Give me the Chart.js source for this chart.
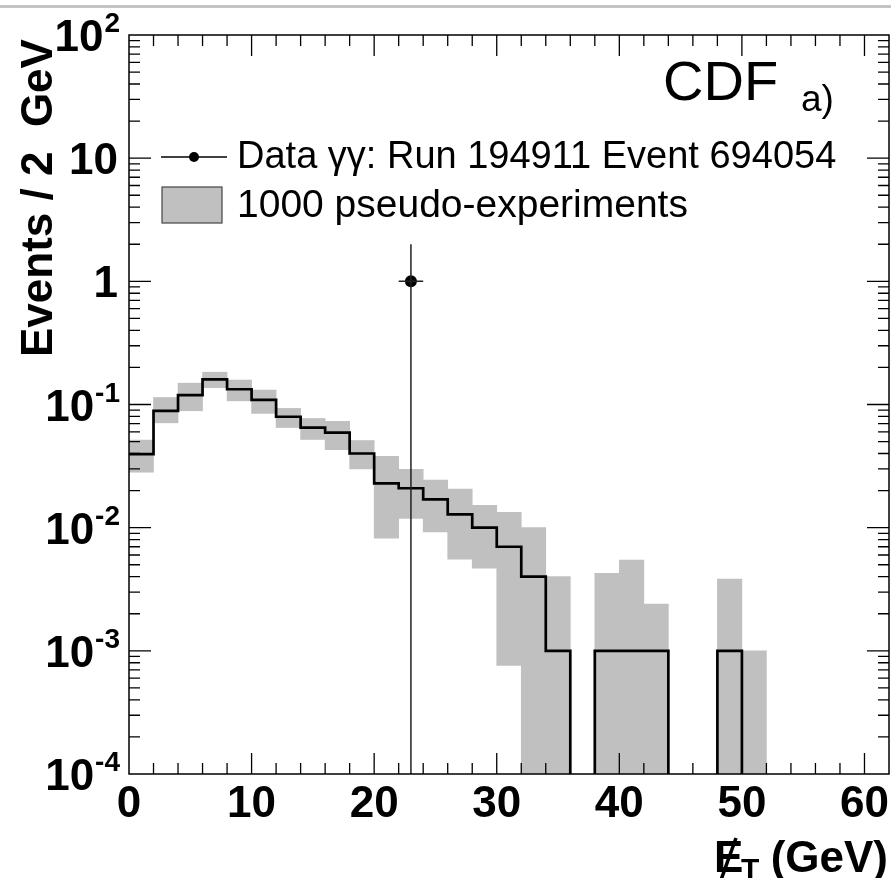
<!DOCTYPE html>
<html>
<head>
<meta charset="utf-8">
<script src="https://cdn.jsdelivr.net/npm/chart.js@4.4.1/dist/chart.umd.min.js"></script>
<style>
  html, body { margin: 0; padding: 0; background: #fff; }
  canvas { display: block; }
</style>
</head>
<body>
<canvas id="metChart" width="891" height="878"></canvas>
<script>
// MET bins (GeV), left edges, 2 GeV wide
const binWidth = 2;
const binLow = [0, 2, 4, 6, 8, 10, 12, 14, 16, 18, 20, 22, 24, 26, 28, 30,
  32, 34, 36, 38, 40, 42, 44, 46, 48, 50, 52, 54, 56, 58, 60];

// mean of the pseudo-experiments (black histogram)
const expected = [0.0395, 0.0889, 0.119, 0.160, 0.133, 0.109, 0.0795, 0.065,
  0.059, 0.040, 0.0229, 0.0209, 0.0170, 0.0128, 0.0100, 0.0070, 0.0040, 0.0010,
  0, 0.0010, 0.0010, 0.0010, 0, 0, 0.0010, 0, 0, 0, 0, 0, 0];

// spread of the pseudo-experiments (grey band), null = no band
const bandLow = [0.0282, 0.071, 0.089, 0.137, 0.107, 0.0847, 0.065, 0.052,
  0.043, 0.030, 0.0082, 0.0119, 0.00925, 0.00554, 0.00468, 0.00076, 0, 0,
  null, 0, 0, 0, null, null, 0, 0, null, null, null, null, null];
const bandHigh = [0.0514, 0.114, 0.149, 0.183, 0.158, 0.131, 0.093, 0.077,
  0.073, 0.051, 0.038, 0.0298, 0.0243, 0.0206, 0.0152, 0.0133, 0.0100, 0.0040,
  null, 0.00425, 0.00546, 0.0024, null, null, 0.00383, 0.0010, null, null, null, null, null];

// the one data event
const dataX = [23];
const dataY = [1];
const dataErrX = [1];
const dataErrY = [1];

// axis labels
const xTickLabels = [0, 10, 20, 30, 40, 50, 60];
const yTickExps = [-4, -3, -2, -1, 0, 1, 2];

const FLOOR = 1e-6; // stands in for zero on the log axis
const FONT = '"Liberation Sans", Arial, Helvetica, sans-serif';

const bandData = [];
binLow.forEach((lo, i) => {
  if (bandHigh[i] == null) return;
  bandData.push({ x: lo + binWidth / 2, y: [bandLow[i] > 0 ? bandLow[i] : FLOOR, bandHigh[i]] });
});

const histData = binLow.map((lo, i) => ({ x: lo, y: expected[i] > 0 ? expected[i] : FLOOR }));
histData.push({ x: binLow[binLow.length - 1] + binWidth, y: histData[histData.length - 1].y });

const pointData = dataX.map((x, i) => ({ x, y: dataY[i] }));

const rootStyle = {
  id: "rootStyle",
  afterDatasetsDraw(chart) {
    const { ctx, chartArea: a, scales: { x, y } } = chart;
    ctx.save();
    ctx.strokeStyle = "#222";
    ctx.lineWidth = 1.5;
    dataX.forEach((dx, i) => {
      const px = x.getPixelForValue(dx);
      const py = y.getPixelForValue(dataY[i]);
      const lo = dataY[i] - dataErrY[i];
      const pyLo = lo > 0 ? y.getPixelForValue(lo) : a.bottom;
      const pyHi = y.getPixelForValue(dataY[i] + dataErrY[i]);
      ctx.beginPath();
      ctx.moveTo(px, pyLo);
      ctx.lineTo(px, pyHi);
      ctx.moveTo(x.getPixelForValue(dx - dataErrX[i]), py);
      ctx.lineTo(x.getPixelForValue(dx + dataErrX[i]), py);
      ctx.stroke();
    });
    ctx.restore();
  },
  afterDraw(chart) {
    const { ctx, chartArea: a, scales: { x, y } } = chart;
    ctx.save();

    // page rule at the very top
    ctx.fillStyle = "#c4c4c4";
    ctx.fillRect(0, 5, 891, 3);

    // frame
    ctx.strokeStyle = "#000";
    ctx.lineWidth = 1.5;
    ctx.strokeRect(a.left, a.top, a.right - a.left, a.bottom - a.top);

    // ticks on all four sides, pointing in
    ctx.lineWidth = 1.3;
    ctx.beginPath();
    x.ticks.forEach((t) => {
      const px = x.getPixelForValue(t.value);
      if (px <= a.left + 1 || px >= a.right - 1) return;
      const len = t.value % 10 === 0 ? 21 : 11;
      ctx.moveTo(px, a.bottom);
      ctx.lineTo(px, a.bottom - len);
      ctx.moveTo(px, a.top);
      ctx.lineTo(px, a.top + len);
    });
    for (let e = -4; e <= 1; e++) {
      for (let k = 1; k <= 9; k++) {
        const py = y.getPixelForValue(k * Math.pow(10, e));
        if (py >= a.bottom - 1) continue;
        const len = k === 1 ? 22 : 11;
        ctx.moveTo(a.left, py);
        ctx.lineTo(a.left + len, py);
        ctx.moveTo(a.right, py);
        ctx.lineTo(a.right - len, py);
      }
    }
    ctx.stroke();

    // y tick labels with superscripts
    ctx.fillStyle = "#000";
    ctx.textBaseline = "alphabetic";
    ctx.textAlign = "right";
    const labelRight = 120;
    yTickExps.forEach((e) => {
      const py = y.getPixelForValue(Math.pow(10, e));
      if (e === 0 || e === 1) {
        ctx.font = "bold 44px " + FONT;
        ctx.fillText(e === 0 ? "1" : "10", labelRight - 2, py + 16);
        return;
      }
      const sup = String(e);
      ctx.font = "bold 28px " + FONT;
      const w = ctx.measureText(sup).width;
      ctx.fillText(sup, labelRight, py - 3);
      ctx.font = "bold 44px " + FONT;
      ctx.fillText("10", labelRight - w - 1, py + 16);
    });

    // x tick labels
    ctx.textAlign = "center";
    ctx.font = "bold 44px " + FONT;
    xTickLabels.forEach((v) => {
      ctx.fillText(String(v), x.getPixelForValue(v), 817);
    });

    // x title: missing E_T (GeV)
    ctx.textAlign = "left";
    ctx.font = "bold 44px " + FONT;
    ctx.fillText("E", 714, 872);
    ctx.font = "bold 30px " + FONT;
    ctx.fillText("T", 741, 879);
    ctx.lineWidth = 3.5;
    ctx.beginPath();
    ctx.moveTo(721, 880);
    ctx.lineTo(736, 838);
    ctx.stroke();
    ctx.textAlign = "right";
    ctx.font = "bold 44px " + FONT;
    ctx.fillText("(GeV)", 888, 872);

    // y title
    ctx.save();
    ctx.translate(52, 357);
    ctx.rotate(-Math.PI / 2);
    ctx.textAlign = "left";
    ctx.font = "bold 44px " + FONT;
    ctx.fillText("Events / 2  GeV", 0, 0);
    ctx.restore();

    // experiment tag
    ctx.textAlign = "left";
    ctx.font = "56px " + FONT;
    ctx.fillText("CDF", 663, 100);
    ctx.font = "37px " + FONT;
    ctx.fillText("a)", 801, 111);

    // legend
    ctx.lineWidth = 1.5;
    ctx.strokeStyle = "#000";
    ctx.beginPath();
    ctx.moveTo(161, 157);
    ctx.lineTo(227, 157);
    ctx.stroke();
    ctx.beginPath();
    ctx.arc(194, 157, 5, 0, Math.PI * 2);
    ctx.fill();
    ctx.font = "38px " + FONT;
    ctx.textBaseline = "middle";
    ctx.fillText("Data \u03b3\u03b3: Run 194911 Event 694054", 237, 158);
    ctx.fillStyle = "#c0c0c0";
    ctx.fillRect(162, 187, 60, 36);
    ctx.strokeStyle = "#444";
    ctx.lineWidth = 1.2;
    ctx.strokeRect(162, 187, 60, 36);
    ctx.fillStyle = "#000";
    ctx.font = "39px " + FONT;
    ctx.fillText("1000 pseudo-experiments", 237, 206);

    ctx.restore();
  },
};

new Chart(document.getElementById("metChart").getContext("2d"), {
  type: "bar",
  data: {
    datasets: [
      {
        type: "bar",
        label: "1000 pseudo-experiments",
        data: bandData,
        backgroundColor: "#c0c0c0",
        borderWidth: 0,
        barPercentage: 1,
        categoryPercentage: 1,
        grouped: false,
        order: 3,
      },
      {
        type: "line",
        label: "expected",
        data: histData,
        stepped: "before",
        borderColor: "#000",
        borderWidth: 2.7,
        pointRadius: 0,
        fill: false,
        order: 2,
      },
      {
        type: "line",
        label: "Data",
        data: pointData,
        showLine: false,
        pointRadius: 6,
        pointBackgroundColor: "#000",
        pointBorderWidth: 0,
        order: 1,
      },
    ],
  },
  options: {
    responsive: false,
    animation: false,
    devicePixelRatio: 1,
    events: [],
    layout: { autoPadding: false, padding: { left: 129, right: 2, top: 35, bottom: 104 } },
    plugins: {
      legend: { display: false },
      tooltip: { enabled: false },
    },
    scales: {
      x: {
        type: "linear",
        display: false,
        min: 0,
        max: 62,
        offset: false,
        ticks: { stepSize: 2 },
      },
      y: {
        type: "logarithmic",
        display: false,
        min: 1e-4,
        max: 100,
      },
    },
  },
  plugins: [rootStyle],
});
</script>
</body>
</html>
